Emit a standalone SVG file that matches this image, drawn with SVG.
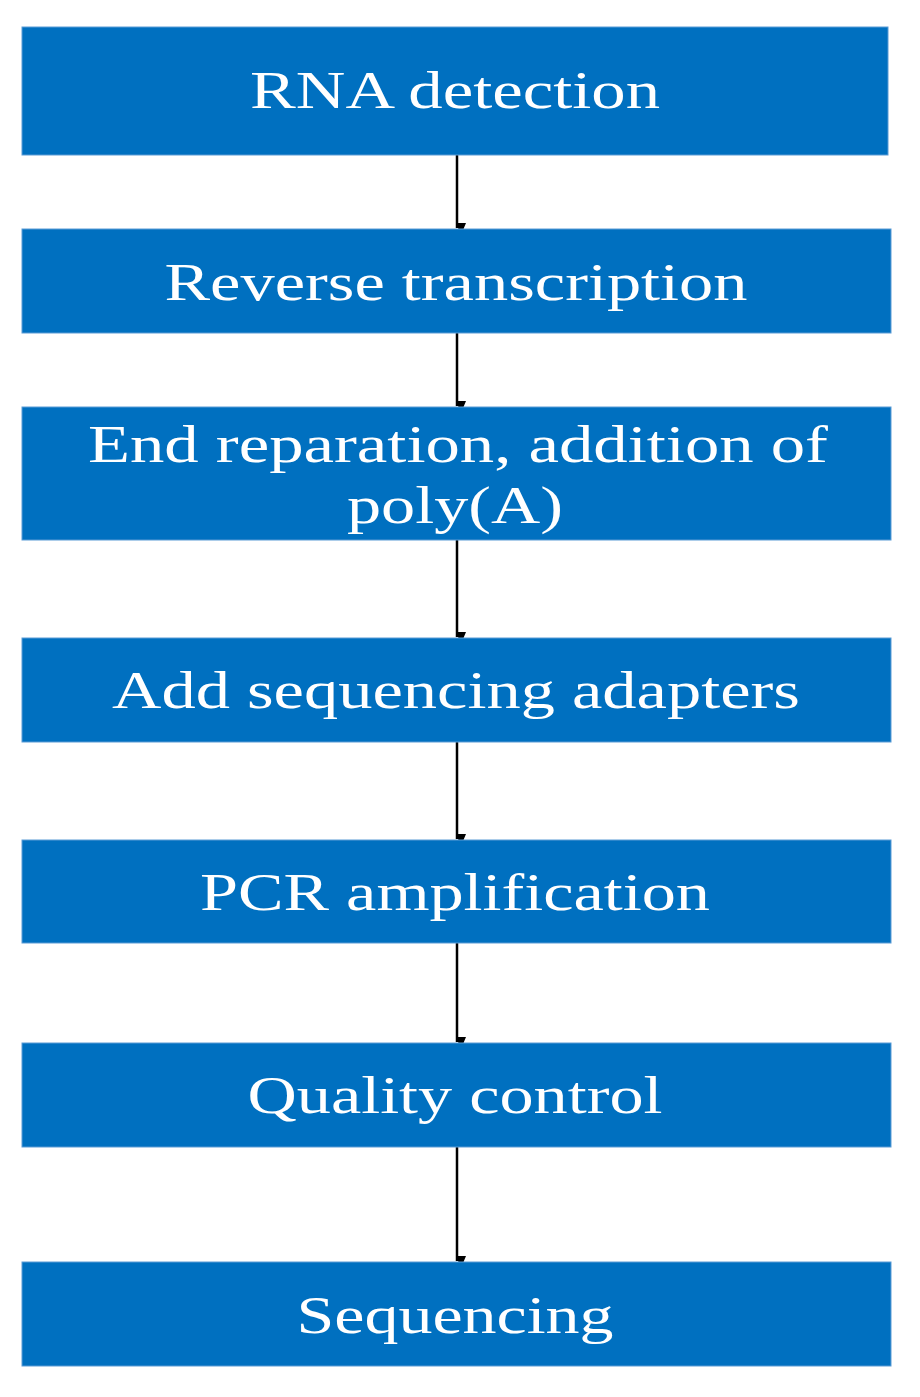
<svg xmlns="http://www.w3.org/2000/svg" width="920" height="1397" viewBox="0 0 920 1397">
<style>
.b{fill:#0070C0;stroke:#5B9BD5;stroke-width:1}
.t{font-family:"Liberation Serif",serif;font-size:53px;fill:#fff;text-anchor:middle}
.c{stroke:#000;stroke-width:2.5;fill:none;marker-end:url(#a)}
</style>
<defs><marker id="a" markerWidth="10" markerHeight="12" refX="5" refY="11" orient="auto" markerUnits="userSpaceOnUse"><path d="M0,0 L10,0 L5,12 Z" transform="rotate(-90 5 6) translate(-1 1)" fill="#000"/></marker></defs>
<rect width="920" height="1397" fill="#fff"/>
<g id="connectors">
<line class="c" x1="457" y1="155" x2="457" y2="228"/>
<line class="c" x1="457" y1="333" x2="457" y2="406"/>
<line class="c" x1="457" y1="540" x2="457" y2="637"/>
<line class="c" x1="457" y1="742" x2="457" y2="839"/>
<line class="c" x1="457" y1="943" x2="457" y2="1042"/>
<line class="c" x1="457" y1="1147" x2="457" y2="1261"/>
</g>
<g id="n1"><rect class="b" x="22" y="27" width="866" height="128"/><text class="t" x="455" y="108" textLength="410" lengthAdjust="spacingAndGlyphs">RNA detection</text></g>
<g id="n2"><rect class="b" x="22" y="229" width="869" height="104"/><text class="t" x="456" y="300" textLength="583" lengthAdjust="spacingAndGlyphs">Reverse transcription</text></g>
<g id="n3"><rect class="b" x="22" y="407" width="869" height="133"/><text class="t" x="458" y="462" textLength="740" lengthAdjust="spacingAndGlyphs">End reparation, addition of</text><text class="t" x="455" y="523" textLength="216" lengthAdjust="spacingAndGlyphs">poly(A)</text></g>
<g id="n4"><rect class="b" x="22" y="638" width="869" height="104"/><text class="t" x="456" y="708" textLength="688" lengthAdjust="spacingAndGlyphs">Add sequencing adapters</text></g>
<g id="n5"><rect class="b" x="22" y="840" width="869" height="103"/><text class="t" x="455" y="910" textLength="510" lengthAdjust="spacingAndGlyphs">PCR amplification</text></g>
<g id="n6"><rect class="b" x="22" y="1043" width="869" height="104"/><text class="t" x="455" y="1113" textLength="415" lengthAdjust="spacingAndGlyphs">Quality control</text></g>
<g id="n7"><rect class="b" x="22" y="1262" width="869" height="104"/><text class="t" x="455" y="1333" textLength="317" lengthAdjust="spacingAndGlyphs">Sequencing</text></g>
</svg>
